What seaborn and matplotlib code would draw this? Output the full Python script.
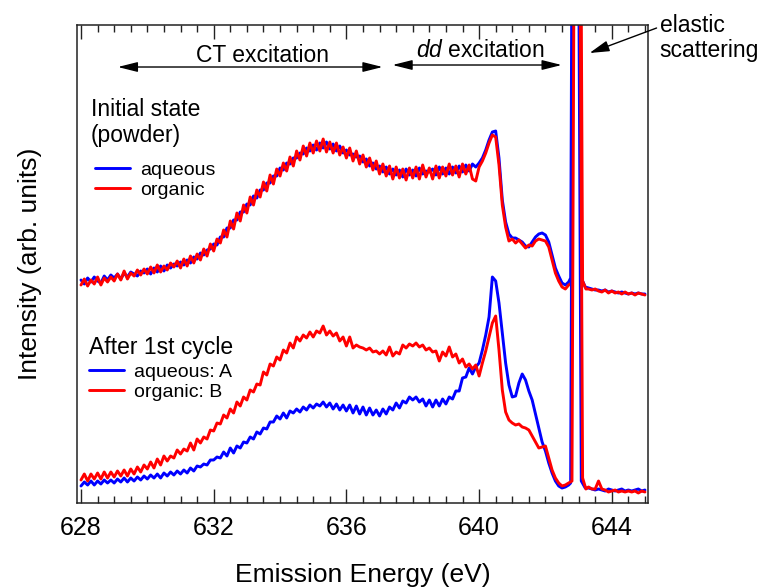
import numpy as np
import pandas as pd
import matplotlib
matplotlib.use("Agg")
import matplotlib.pyplot as plt
from matplotlib.ticker import MultipleLocator
import seaborn as sns

# ---------------- data (intensity in arbitrary units) ----------------
energy_main = np.round(np.arange(628.0, 642.75, 0.1), 2)   # 628.0 ... 642.7
energy_tail = np.round(np.arange(643.3, 645.05, 0.1), 2)   # 643.3 ... 645.0
elastic_energy_aq = [642.76, 642.84, 642.98, 643.08, 643.20]
elastic_energy_org = [642.80, 642.88, 643.02, 643.12, 643.22]

init_aqueous_main = [
    223, 219, 225, 221, 226, 222, 220, 227, 223, 228,
    225, 229, 224, 230, 226, 231, 229, 227, 232, 230,
    234, 229, 235, 231, 237, 232, 238, 235, 239, 237,
    241, 238, 243, 240, 246, 244, 250, 248, 253, 254,
    259, 258, 266, 266, 275, 275, 283, 283, 291, 291,
    299, 298, 307, 305, 313, 313, 320, 320, 327, 327,
    335, 333, 340, 339, 345, 345, 350, 349, 355, 352,
    358, 353, 360, 355, 361, 354, 359, 352, 357, 350,
    353, 348, 349, 346, 347, 341, 344, 337, 340, 334,
    337, 331, 336, 329, 334, 328, 333, 326, 334, 328,
    333, 327, 335, 329, 332, 331, 334, 328, 336, 329,
    335, 329, 336, 330, 337, 331, 338, 332, 339, 336,
    340, 345, 353, 363, 371, 372, 345, 303, 281, 269,
    265, 265, 263, 261, 257, 256, 261, 266, 269, 270,
    268, 261, 248, 235, 227, 220, 218, 221]
init_organic_main = [
    218, 224, 217, 223, 219, 226, 218, 225, 221, 226,
    222, 229, 223, 232, 224, 230, 227, 233, 228, 234,
    229, 236, 230, 238, 231, 237, 233, 240, 236, 242,
    235, 244, 237, 247, 240, 249, 243, 254, 247, 259,
    252, 264, 260, 273, 266, 282, 274, 290, 282, 298,
    290, 306, 298, 313, 306, 321, 312, 328, 319, 334,
    327, 340, 332, 346, 337, 352, 343, 357, 347, 360,
    350, 362, 352, 364, 351, 361, 350, 360, 348, 356,
    345, 355, 342, 352, 339, 348, 336, 345, 333, 342,
    329, 339, 327, 337, 324, 336, 325, 334, 323, 335,
    325, 336, 324, 338, 326, 335, 324, 337, 325, 336,
    327, 339, 328, 337, 326, 339, 329, 338, 324, 322,
    336, 342, 350, 360, 368, 366, 338, 298, 276, 262,
    264, 260, 263, 259, 255, 258, 257, 262, 264, 263,
    262, 256, 243, 230, 222, 216, 214, 218]
cycle_aqueous_main = [
    17, 21, 18, 22, 18, 22, 19, 23, 20, 23,
    20, 24, 21, 25, 21, 25, 22, 26, 23, 27,
    24, 28, 25, 29, 25, 30, 27, 31, 28, 32,
    29, 33, 30, 35, 32, 37, 36, 39, 38, 43,
    43, 46, 45, 51, 47, 55, 50, 57, 55, 61,
    60, 66, 64, 71, 69, 75, 74, 81, 81, 87,
    84, 90, 85, 92, 90, 94, 91, 96, 93, 98,
    95, 99, 97, 101, 96, 100, 94, 99, 93, 98,
    92, 98, 90, 97, 89, 96, 88, 95, 88, 93,
    87, 94, 89, 96, 93, 100, 95, 102, 100, 106,
    103, 106, 101, 104, 97, 103, 96, 103, 97, 104,
    99, 106, 104, 112, 112, 125, 126, 135, 129, 136,
    140, 153, 168, 186, 226, 222, 200, 170, 140, 118,
    106, 107, 120, 129, 123, 112, 103, 89, 75, 61,
    52, 40, 30, 22, 17, 15, 16, 18]
cycle_organic_main = [
    23, 29, 22, 29, 24, 30, 24, 31, 25, 31,
    26, 32, 27, 33, 27, 34, 29, 36, 31, 38,
    34, 41, 35, 44, 38, 47, 42, 47, 45, 53,
    49, 54, 52, 60, 53, 64, 60, 66, 64, 73,
    72, 80, 79, 88, 85, 94, 90, 101, 97, 106,
    103, 113, 111, 119, 118, 131, 128, 139, 137, 146,
    143, 153, 150, 160, 155, 166, 162, 168, 165, 171,
    166, 172, 170, 177, 168, 172, 167, 170, 162, 166,
    157, 166, 155, 158, 156, 155, 153, 155, 151, 152,
    149, 152, 148, 156, 147, 151, 149, 158, 155, 159,
    157, 160, 156, 158, 153, 155, 151, 152, 142, 151,
    147, 156, 146, 149, 140, 144, 136, 139, 134, 138,
    127, 140, 152, 166, 180, 187, 153, 113, 91, 83,
    80, 78, 79, 76, 75, 73, 67, 61, 55, 56,
    57, 45, 33, 25, 20, 17, 18, 20]

# elastic line (runs off the top of the scale)
init_aqueous_elastic = [225, 900, 900, 225, 216]
init_organic_elastic = [220, 900, 900, 222, 214]
cycle_aqueous_elastic = [20, 700, 700, 22, 15]
cycle_organic_elastic = [22, 700, 700, 25, 14]

init_aqueous_tail = [215, 214, 213, 213, 212, 213, 211, 212, 211, 210, 211, 210, 209, 210, 209, 210, 209, 209]
init_organic_tail = [214, 213, 214, 212, 211, 213, 210, 212, 210, 211, 209, 211, 209, 210, 208, 210, 209, 208]
cycle_aqueous_tail = [15, 14, 13, 14, 13, 12, 14, 13, 12, 13, 14, 12, 13, 12, 13, 14, 12, 13]
cycle_organic_tail = [16, 14, 14, 22, 14, 13, 11, 12, 13, 11, 12, 11, 12, 11, 12, 10, 12, 11]

init_title = "Initial state\n(powder)"
cycle_title = "After 1st cycle"
init_labels = ["aqueous", "organic"]
cycle_labels = ["aqueous: A", "organic: B"]
colors = ["#0000FF", "#FF0000"]


def spectrum(label, el_energy, main, elastic, tail):
    e = np.concatenate([energy_main, el_energy, energy_tail])
    v = np.concatenate([main, elastic, tail])
    return pd.DataFrame({"energy": e, "intensity": v, "sample": label})


df_init = pd.concat([
    spectrum(init_labels[0], elastic_energy_aq, init_aqueous_main, init_aqueous_elastic, init_aqueous_tail),
    spectrum(init_labels[1], elastic_energy_org, init_organic_main, init_organic_elastic, init_organic_tail),
])
df_cycle = pd.concat([
    spectrum(cycle_labels[0], elastic_energy_aq, cycle_aqueous_main, cycle_aqueous_elastic, cycle_aqueous_tail),
    spectrum(cycle_labels[1], elastic_energy_org, cycle_organic_main, cycle_organic_elastic, cycle_organic_tail),
])

# ---------------- style ----------------
sns.set_theme(style="ticks")
plt.rcParams["font.family"] = ["Liberation Sans", "DejaVu Sans"]
plt.rcParams["mathtext.fontset"] = "custom"
plt.rcParams["mathtext.rm"] = "Liberation Sans"
plt.rcParams["mathtext.it"] = "Liberation Sans:italic"
plt.rcParams["text.color"] = "black"
plt.rcParams["axes.labelcolor"] = "black"

fig = plt.figure(figsize=(7.6, 5.87), dpi=100)
ax = fig.add_axes([0.1009, 0.1431, 0.7521, 0.8143])

sns.lineplot(data=df_init, x="energy", y="intensity", hue="sample", hue_order=init_labels,
             palette=colors, estimator=None, sort=False, linewidth=2.1, legend=False, ax=ax)
sns.lineplot(data=df_cycle, x="energy", y="intensity", hue="sample", hue_order=cycle_labels,
             palette=colors, estimator=None, sort=False, linewidth=2.1, legend=False, ax=ax)

ax.set_xlim(627.87, 645.1)
ax.set_ylim(0, 478)

ax.set_xticks([628, 632, 636, 640, 644])
ax.xaxis.set_minor_locator(MultipleLocator(0.5))
ax.set_yticks([])
ax.tick_params(axis="x", which="both", direction="in", top=True, bottom=True,
               labelsize=18, pad=9, width=1, color="#222222", labelcolor="black")
ax.tick_params(axis="x", which="major", length=10)
ax.tick_params(axis="x", which="minor", length=5)
for s in ax.spines.values():
    s.set_linewidth(1.1)
    s.set_color("#222222")

ax.set_xlabel("Emission Energy (eV)", fontsize=19, labelpad=17)
ax.set_ylabel("Intensity (arb. units)", fontsize=19, labelpad=25)

# region arrows and labels
arrow_kw = dict(arrowstyle="<|-|>,head_length=0.8,head_width=0.2", color="black",
                lw=1, shrinkA=0, shrinkB=0, mutation_scale=15)
ax.annotate("", xy=(629.11, 436), xytext=(637.09, 436), arrowprops=arrow_kw)
ax.annotate("", xy=(637.39, 438), xytext=(642.49, 438), arrowprops=arrow_kw)
ax.text(633.48, 441, "CT excitation", ha="center", va="baseline", fontsize=16.5)
ax.text(640.05, 446, r"$\mathit{dd}$ excitation", ha="center", va="baseline", fontsize=16.5)

ax.annotate("", xy=(643.33, 450), xytext=(645.35, 475), annotation_clip=False,
            arrowprops=dict(arrowstyle="-|>,head_length=0.8,head_width=0.22", color="black",
                            lw=1, shrinkA=0, shrinkB=0, mutation_scale=15))
ax.text(645.44, 489, "elastic\nscattering", ha="left", va="top", fontsize=16.5,
        linespacing=1.12, clip_on=False)

# legends (group titles + entries)
lines = ax.get_lines()
ax.text(0.025, 0.847, init_title, transform=ax.transAxes, ha="left", va="top",
        fontsize=16.5, linespacing=1.15)
leg1 = ax.legend(lines[0:2], init_labels, loc="center left", bbox_to_anchor=(0.032, 0.6757),
                 frameon=False, fontsize=14, borderpad=0, borderaxespad=0,
                 handlelength=1.8, handletextpad=0.5, labelspacing=0.1)
ax.add_artist(leg1)
ax.text(0.0215, 0.349, cycle_title, transform=ax.transAxes, ha="left", va="top",
        fontsize=16.5)
leg2 = ax.legend(lines[2:4], cycle_labels, loc="center left", bbox_to_anchor=(0.0215, 0.2531),
                 frameon=False, fontsize=14, borderpad=0, borderaxespad=0,
                 handlelength=1.8, handletextpad=0.5, labelspacing=0.1)

fig.savefig("out.png", dpi=100)
